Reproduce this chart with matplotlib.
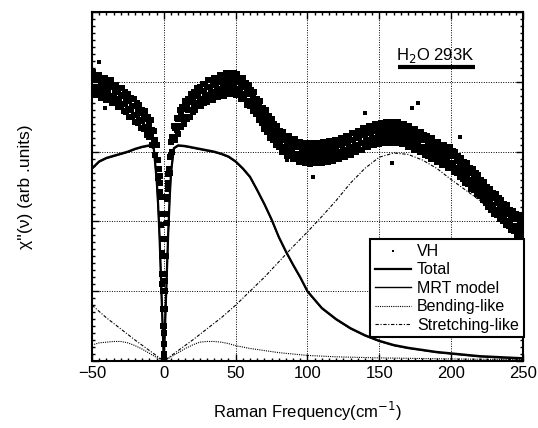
import matplotlib
matplotlib.use("Agg")
import matplotlib.pyplot as plt
import numpy as np
from matplotlib.ticker import MultipleLocator, NullFormatter

plt.rcParams['font.family'] = ['Liberation Sans', 'DejaVu Sans']

# VH data, read as a band: even and odd frequencies, lower and upper edge
x_even = np.arange(-50, 251, 2)
x_odd = np.arange(-49, 250, 2)

vh_even_lo = [3.85, 3.81, 3.83, 3.77, 3.80, 3.74, 3.76, 3.69, 3.70, 3.64, 3.65, 3.58, 3.57, 3.50, 3.49, 3.42,
              3.41, 3.34, 3.32, 3.24, 3.21, 3.10, 2.95, 2.62, 1.95, 0.10, 1.98, 2.70, 3.00, 3.17, 3.25, 3.35,
              3.40, 3.47, 3.50, 3.57, 3.59, 3.65, 3.65, 3.70, 3.71, 3.75, 3.74, 3.79, 3.78, 3.82, 3.80, 3.84,
              3.83, 3.85, 3.81, 3.82, 3.76, 3.75, 3.67, 3.65, 3.58, 3.54, 3.45, 3.41, 3.32, 3.28, 3.20, 3.17,
              3.10, 3.07, 3.00, 2.99, 2.94, 2.93, 2.89, 2.89, 2.85, 2.86, 2.83, 2.85, 2.82, 2.84, 2.83, 2.85,
              2.84, 2.86, 2.85, 2.88, 2.87, 2.90, 2.89, 2.93, 2.92, 2.96, 2.95, 2.99, 2.99, 3.03, 3.03, 3.07,
              3.06, 3.10, 3.09, 3.12, 3.11, 3.14, 3.13, 3.15, 3.13, 3.15, 3.13, 3.14, 3.11, 3.11, 3.07, 3.07,
              3.03, 3.03, 2.99, 2.99, 2.95, 2.94, 2.90, 2.90, 2.85, 2.85, 2.81, 2.81, 2.77, 2.77, 2.71, 2.69,
              2.63, 2.61, 2.55, 2.53, 2.47, 2.45, 2.39, 2.37, 2.30, 2.27, 2.20, 2.17, 2.11, 2.09, 2.03, 2.01,
              1.95, 1.93, 1.87, 1.86, 1.81, 1.79, 1.73]
vh_even_hi = [4.05, 4.03, 4.02, 3.97, 3.99, 3.93, 3.95, 3.92, 3.86, 3.87, 3.80, 3.81, 3.74, 3.73, 3.66, 3.65,
              3.58, 3.56, 3.49, 3.46, 3.38, 3.31, 3.16, 2.88, 2.35, 0.40, 2.32, 2.92, 3.21, 3.34, 3.46, 3.52,
              3.61, 3.64, 3.71, 3.74, 3.80, 3.82, 3.87, 3.87, 3.93, 3.92, 3.97, 3.96, 4.01, 3.99, 4.04, 4.01,
              4.05, 4.03, 4.04, 3.99, 3.98, 3.92, 3.90, 3.82, 3.79, 3.71, 3.67, 3.58, 3.53, 3.45, 3.42, 3.34,
              3.31, 3.24, 3.22, 3.16, 3.15, 3.10, 3.10, 3.06, 3.07, 3.03, 3.05, 3.02, 3.04, 3.01, 3.05, 3.02,
              3.06, 3.03, 3.07, 3.05, 3.09, 3.07, 3.11, 3.10, 3.14, 3.13, 3.17, 3.16, 3.21, 3.20, 3.25, 3.24,
              3.28, 3.27, 3.31, 3.29, 3.33, 3.31, 3.35, 3.32, 3.35, 3.32, 3.35, 3.31, 3.33, 3.28, 3.29, 3.24,
              3.25, 3.20, 3.21, 3.16, 3.17, 3.11, 3.12, 3.07, 3.07, 3.02, 3.03, 2.98, 2.99, 2.94, 2.93, 2.86,
              2.85, 2.78, 2.77, 2.70, 2.69, 2.62, 2.61, 2.54, 2.52, 2.44, 2.42, 2.34, 2.33, 2.26, 2.25, 2.18,
              2.17, 2.10, 2.09, 2.03, 2.03, 1.96, 1.95]
vh_odd_lo = [3.90, 3.93, 3.87, 3.89, 3.84, 3.86, 3.79, 3.80, 3.74, 3.75, 3.68, 3.68, 3.61, 3.60, 3.53, 3.52,
             3.45, 3.44, 3.35, 3.33, 3.23, 3.13, 2.88, 2.42, 1.10, 1.15, 2.47, 2.95, 3.16, 3.31, 3.37, 3.48,
             3.50, 3.59, 3.60, 3.68, 3.69, 3.75, 3.74, 3.81, 3.80, 3.85, 3.84, 3.89, 3.87, 3.92, 3.89, 3.94,
             3.91, 3.94, 3.89, 3.90, 3.83, 3.82, 3.73, 3.72, 3.63, 3.60, 3.50, 3.47, 3.37, 3.34, 3.25, 3.24,
             3.15, 3.14, 3.06, 3.07, 3.00, 3.01, 2.96, 2.97, 2.92, 2.95, 2.91, 2.94, 2.90, 2.94, 2.91, 2.95,
             2.92, 2.96, 2.93, 2.98, 2.95, 3.00, 2.98, 3.03, 3.01, 3.06, 3.04, 3.09, 3.08, 3.13, 3.12, 3.17,
             3.15, 3.20, 3.17, 3.22, 3.19, 3.24, 3.21, 3.25, 3.21, 3.25, 3.20, 3.23, 3.18, 3.20, 3.14, 3.15,
             3.10, 3.11, 3.06, 3.07, 3.01, 3.03, 2.97, 2.98, 2.92, 2.93, 2.88, 2.89, 2.84, 2.84, 2.77, 2.76,
             2.69, 2.68, 2.61, 2.60, 2.53, 2.52, 2.45, 2.44, 2.35, 2.34, 2.25, 2.24, 2.17, 2.16, 2.09, 2.08,
             2.01, 2.00, 1.93, 1.94, 1.87, 1.86]
vh_odd_hi = [4.14, 4.09, 4.10, 4.05, 4.06, 4.02, 4.02, 3.96, 3.96, 3.91, 3.91, 3.85, 3.83, 3.77, 3.75, 3.69,
             3.67, 3.60, 3.58, 3.50, 3.45, 3.30, 3.10, 2.65, 1.55, 1.50, 2.68, 3.14, 3.36, 3.48, 3.59, 3.64,
             3.73, 3.75, 3.83, 3.85, 3.91, 3.92, 3.97, 3.97, 4.02, 4.02, 4.06, 4.06, 4.10, 4.08, 4.12, 4.10,
             4.13, 4.10, 4.11, 4.06, 4.05, 3.98, 3.96, 3.88, 3.85, 3.76, 3.72, 3.63, 3.59, 3.51, 3.47, 3.40,
             3.37, 3.30, 3.28, 3.23, 3.22, 3.17, 3.18, 3.14, 3.14, 3.11, 3.13, 3.10, 3.12, 3.10, 3.13, 3.11,
             3.14, 3.12, 3.15, 3.14, 3.17, 3.16, 3.20, 3.19, 3.23, 3.22, 3.26, 3.26, 3.30, 3.30, 3.34, 3.33,
             3.37, 3.36, 3.39, 3.38, 3.41, 3.40, 3.43, 3.40, 3.43, 3.40, 3.42, 3.39, 3.40, 3.35, 3.36, 3.32,
             3.32, 3.28, 3.28, 3.24, 3.23, 3.19, 3.19, 3.14, 3.14, 3.10, 3.10, 3.06, 3.06, 3.01, 2.99, 2.93,
             2.91, 2.85, 2.83, 2.77, 2.75, 2.69, 2.67, 2.60, 2.57, 2.50, 2.47, 2.41, 2.39, 2.33, 2.31, 2.25,
             2.23, 2.17, 2.15, 2.10, 2.09, 2.03]

# points on the walls of the dip at zero frequency
dip_x = [-3.5, -3, -2.5, -2, -1.5, -1.2, -1, -0.8, -0.6, -0.4, -0.2, 0, 0.2, 0.4, 0.6, 0.8, 1, 1.2, 1.5, 2, 2.5, 3, 3.5]
dip_y = [2.75, 2.55, 2.35, 2.1, 1.75, 1.5, 1.25, 1.0, 0.75, 0.5, 0.25, 0.05, 0.25, 0.5, 0.75, 1.0, 1.25, 1.5, 1.75, 2.1,
         2.35, 2.55, 2.75]

# scattered outliers
out_x = [-41, -37, 25.5, 49.6, 67, 86, 104, 159, 173, 177, 206, -45, 140]
out_y = [3.62, 3.74, 3.90, 4.14, 3.52, 2.88, 2.64, 2.84, 3.62, 3.70, 3.21, 4.28, 3.55]

# model curves
line_x = [-50, -45, -40, -35, -30, -25, -20, -15, -10, -7, -5, -4, -3, -2, -1, -0.5, 0, 0.5, 1, 2, 3, 4, 5, 7,
          10, 15, 20, 25, 30, 35, 40, 45, 50, 55, 60, 65, 70, 75, 80, 85, 90, 95, 100, 110, 120, 130, 140, 150,
          160, 170, 180, 190, 200, 210, 220, 230, 240, 250]
total = [2.76, 2.86, 2.91, 2.94, 2.97, 3.00, 3.04, 3.07, 3.09, 3.05, 2.60, 2.25, 1.80, 1.20, 0.60, 0.30, 0.00,
         0.30, 0.60, 1.20, 1.80, 2.30, 2.70, 3.05, 3.09, 3.08, 3.06, 3.04, 3.02, 3.00, 2.97, 2.93, 2.86, 2.76,
         2.64, 2.45, 2.25, 2.03, 1.78, 1.57, 1.38, 1.20, 1.00, 0.76, 0.60, 0.47, 0.37, 0.29, 0.23, 0.19, 0.16,
         0.13, 0.11, 0.09, 0.07, 0.06, 0.05, 0.04]
mrt = [2.75, 2.85, 2.90, 2.93, 2.96, 2.99, 3.03, 3.06, 3.08, 3.04, 2.59, 2.24, 1.79, 1.19, 0.59, 0.29, 0.00,
       0.29, 0.59, 1.19, 1.79, 2.29, 2.69, 3.04, 3.08, 3.07, 3.05, 3.03, 3.01, 2.99, 2.96, 2.92, 2.85, 2.75,
       2.63, 2.44, 2.24, 2.02, 1.77, 1.56, 1.37, 1.19, 0.99, 0.75, 0.59, 0.46, 0.36, 0.28, 0.22, 0.18, 0.15,
       0.12, 0.10, 0.08, 0.06, 0.05, 0.04, 0.03]

bend_x = [-50, -45, -40, -35, -30, -25, -20, -15, -10, -5, 0, 5, 10, 15, 20, 25, 30, 35, 40, 45, 50, 55, 60,
          70, 80, 90, 100, 120, 150, 200, 250]
bending = [0.23, 0.26, 0.27, 0.28, 0.28, 0.26, 0.22, 0.17, 0.11, 0.05, 0.0, 0.06, 0.12, 0.18, 0.23, 0.27, 0.28,
           0.28, 0.27, 0.25, 0.22, 0.20, 0.18, 0.15, 0.12, 0.10, 0.08, 0.06, 0.045, 0.03, 0.02]

str_x = [-50, -40, -30, -20, -10, 0, 10, 20, 30, 40, 50, 60, 70, 80, 90, 100, 110, 120, 130, 140, 150, 160,
         170, 180, 190, 200, 210, 220, 230, 240, 250]
stretching = [0.80, 0.62, 0.46, 0.30, 0.15, 0.0, 0.15, 0.30, 0.46, 0.62, 0.80, 1.00, 1.20, 1.42, 1.64, 1.85,
              2.07, 2.30, 2.55, 2.76, 2.92, 2.98, 2.96, 2.88, 2.76, 2.60, 2.45, 2.30, 2.12, 1.95, 1.78]

fig = plt.figure(figsize=(5.38, 4.28), dpi=100)
ax = fig.add_axes([0.171, 0.1565, 0.801, 0.8155])

dot = dict(color='black', s=20, marker='s', linewidths=0, zorder=3)
ax.scatter(x_even, vh_even_lo, label='VH', **dot)
ax.scatter(x_even, vh_even_hi, **dot)
ax.scatter(x_odd, vh_odd_lo, **dot)
ax.scatter(x_odd, vh_odd_hi, **dot)
ax.scatter(dip_x, dip_y, **dot)
ax.scatter(out_x, out_y, color='black', s=8, marker='s', linewidths=0, zorder=3)

ax.plot(line_x, total, color='black', lw=1.6, label='Total', zorder=4)
ax.plot(line_x, mrt, color='black', lw=1.0, label='MRT model', zorder=4)
ax.plot(bend_x, bending, color='black', lw=0.8, ls=(0, (1, 1)), label='Bending-like', zorder=4)
ax.plot(str_x, stretching, color='black', lw=0.8, ls=(0, (3, 1.5, 1, 1.5)), label='Stretching-like', zorder=4)

ax.set_xlim(-50, 250)
ax.set_ylim(0, 5)
ax.xaxis.set_major_locator(MultipleLocator(50))
ax.xaxis.set_minor_locator(MultipleLocator(5))
ax.yaxis.set_major_locator(MultipleLocator(1))
ax.yaxis.set_minor_locator(MultipleLocator(0.1))
ax.yaxis.set_major_formatter(NullFormatter())
ax.tick_params(which='both', direction='in', top=True, right=True, width=1)
ax.tick_params(which='major', length=5, labelsize=12)
ax.tick_params(which='minor', length=2.5)
ax.grid(True, which='major', color='black', ls=(0, (1, 1.5)), lw=0.7)
for s in ax.spines.values():
    s.set_linewidth(1.5)

ax.set_xlabel('Raman Frequency(cm$^{-1}$)', fontsize=12, labelpad=14)
ax.set_ylabel("χ''(ν) (arb .units)", fontsize=12.5, labelpad=39)

ax.text(0.797, 0.875, 'H$_2$O 293K', transform=ax.transAxes, fontsize=12, ha='center', va='center')
ax.plot([0.710, 0.888], [0.842, 0.842], transform=ax.transAxes, color='black', lw=3, solid_capstyle='butt')

leg = ax.legend(loc='upper left', bbox_to_anchor=(0.645, 0.350), fontsize=11.5, frameon=True, fancybox=False,
                edgecolor='black', framealpha=1, handlelength=2.3, handletextpad=0.35, labelspacing=0.22,
                borderpad=0.3, borderaxespad=0, markerscale=0.4)
leg.get_frame().set_linewidth(1.5)
leg.set_zorder(6)

fig.savefig('out.png', dpi=100)
